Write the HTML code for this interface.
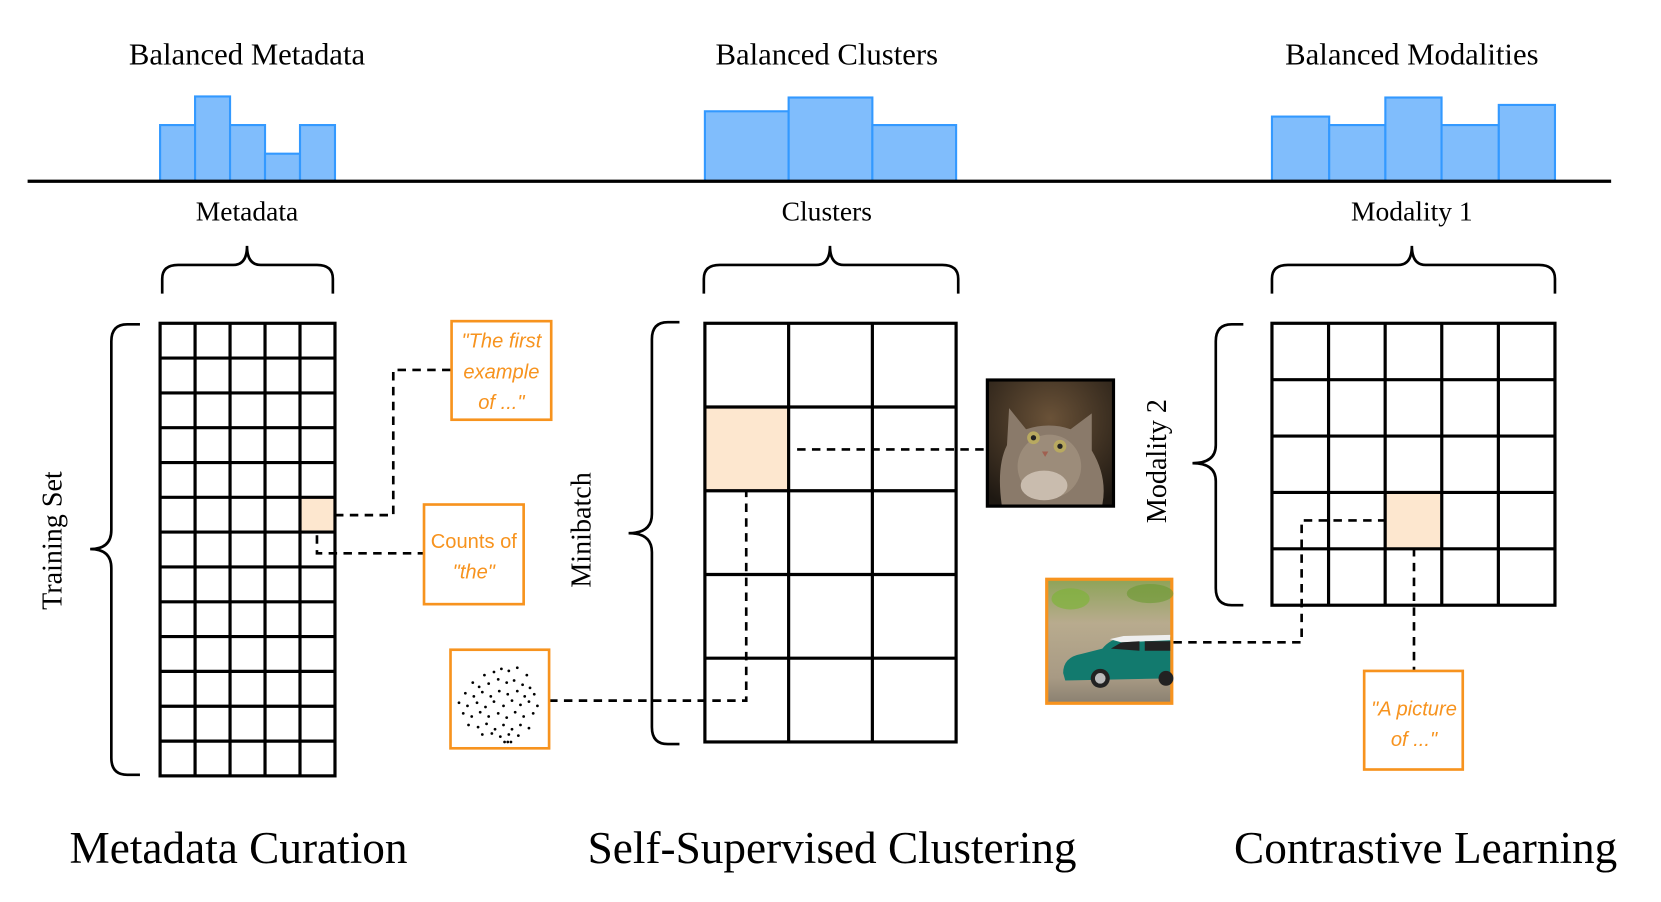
<!DOCTYPE html>
<html><head><meta charset="utf-8"><style>
html,body{margin:0;padding:0;background:#fff;}
svg{display:block;}
text{font-family:"Liberation Serif",serif;fill:#000;}
.o{font-family:"Liberation Sans",sans-serif;fill:#f7931e;font-size:19px;font-style:italic;}
</style></head><body>
<svg width="1661" height="902" viewBox="0 0 1567 851" xmlns="http://www.w3.org/2000/svg">
<defs>
<radialGradient id="catbg" cx="0.5" cy="0.3" r="0.8"><stop offset="0" stop-color="#6a5238"/><stop offset="1" stop-color="#1e1812"/></radialGradient>
<linearGradient id="carbg" x1="0" y1="0" x2="0" y2="1"><stop offset="0" stop-color="#8fa45a"/><stop offset="0.35" stop-color="#b8ab8e"/><stop offset="0.8" stop-color="#a89a84"/><stop offset="1" stop-color="#8c8272"/></linearGradient>
</defs>
<g font-size="29" text-anchor="middle">
<text x="233" y="61">Balanced Metadata</text>
<text x="780" y="61">Balanced Clusters</text>
<text x="1332" y="61">Balanced Modalities</text>
</g>
<g fill="#80bdfc" stroke="#3399ff" stroke-width="2">
<rect x="151" y="118" width="33" height="53"/><rect x="184" y="91" width="33" height="80"/><rect x="217" y="118" width="33" height="53"/><rect x="250" y="145" width="33" height="26"/><rect x="283" y="118" width="33" height="53"/>
<rect x="665" y="105" width="79" height="66"/><rect x="744" y="92" width="79" height="79"/><rect x="823" y="118" width="79" height="53"/>
<rect x="1200" y="110" width="54" height="61"/><rect x="1254" y="118" width="53" height="53"/><rect x="1307" y="92" width="53" height="79"/><rect x="1360" y="118" width="54" height="53"/><rect x="1414" y="99" width="53" height="72"/>
</g>
<line x1="26" y1="171" x2="1520" y2="171" stroke="#000" stroke-width="3"/>
<g font-size="26" text-anchor="middle">
<text x="233" y="208">Metadata</text>
<text x="780" y="208">Clusters</text>
<text x="1332" y="208">Modality 1</text>
</g>
<g fill="none" stroke="#000" stroke-width="2.5">
<path d="M153 277 V263 Q153 250 168 250 H220 Q233 250 233 232 Q233 250 246 250 H299 Q314 250 314 263 V277"/>
<path d="M664 277 V263 Q664 250 679 250 H770 Q783 250 783 232 Q783 250 796 250 H889 Q904 250 904 263 V277"/>
<path d="M1200 277 V263 Q1200 250 1215 250 H1319 Q1332 250 1332 232 Q1332 250 1345 250 H1452 Q1467 250 1467 263 V277"/>
<path d="M132 306 H120 Q105 306 105 322 V500 Q105 518 85 518 Q105 518 105 536 V715 Q105 731 120 731 H132"/>
<path d="M641 304 H630 Q615 304 615 320 V485 Q615 503 593 503 Q615 503 615 521 V686 Q615 702 630 702 H641"/>
<path d="M1173 306 H1162 Q1147 306 1147 322 V420 Q1147 437 1125 437 Q1147 437 1147 454 V555 Q1147 571 1162 571 H1173"/>
</g>
<g font-size="26.5" text-anchor="middle">
<text transform="translate(58,510) rotate(-90)">Training Set</text>
<text transform="translate(557,500) rotate(-90)">Minibatch</text>
<text transform="translate(1100,435) rotate(-90)">Modality 2</text>
</g>
<rect x="283" y="469" width="33" height="33" fill="#fde7cf"/>
<rect x="665" y="384" width="79" height="79" fill="#fde7cf"/>
<rect x="1307" y="465" width="53" height="52" fill="#fde7cf"/>
<g stroke="#000" stroke-width="3" fill="none">
<rect x="151" y="305" width="165" height="427"/>
<path d="M184 305V732M217 305V732M250 305V732M283 305V732"/>
<path d="M151 337.8H316M151 370.7H316M151 403.5H316M151 436.4H316M151 469.2H316M151 502H316M151 534.9H316M151 567.8H316M151 600.6H316M151 633.4H316M151 666.3H316M151 699.2H316"/>
<rect x="665" y="305" width="237" height="395"/>
<path d="M744 305V700M823 305V700M665 384H902M665 463H902M665 542H902M665 621H902"/>
<rect x="1200" y="305" width="267" height="266"/>
<path d="M1253.4 305V571M1306.8 305V571M1360.2 305V571M1413.6 305V571M1200 358.2H1467M1200 411.4H1467M1200 464.6H1467M1200 517.8H1467"/>
</g>
<g stroke="#000" stroke-width="2.5" fill="none" stroke-dasharray="8,6">
<path d="M316 486H371V349H426"/>
<path d="M299 505V522H400"/>
<path d="M518 661H704V464"/>
<path d="M752 424H930"/>
<path d="M1107 606H1228V491H1307"/>
<path d="M1334 517V633"/>
</g>
<g fill="#fff" stroke="#f7931e" stroke-width="2.5">
<rect x="426" y="303" width="94" height="93"/>
<rect x="400" y="476" width="94" height="94"/>
<rect x="425" y="613" width="93" height="93"/>
<rect x="1287" y="633" width="93" height="93"/>
</g>
<g text-anchor="middle">
<text class="o" x="473" y="328">"The first</text>
<text class="o" x="473" y="357">example</text>
<text class="o" x="473" y="386">of ..."</text>
<text class="o" x="447" y="517" style="font-style:normal">Counts of</text>
<text class="o" x="447" y="546">"the"</text>
<text class="o" x="1334" y="675">"A picture</text>
<text class="o" x="1334" y="704">of ..."</text>
</g>
<g fill="#000">
<circle cx="457" cy="637" r="1.3"/><circle cx="466" cy="634" r="1.3"/><circle cx="473" cy="631" r="1.3"/><circle cx="480" cy="633" r="1.3"/><circle cx="488" cy="630" r="1.3"/><circle cx="497" cy="637" r="1.3"/>
<circle cx="446" cy="644" r="1.3"/><circle cx="452" cy="648" r="1.3"/><circle cx="461" cy="645" r="1.3"/><circle cx="470" cy="641" r="1.3"/><circle cx="478" cy="644" r="1.3"/><circle cx="485" cy="642" r="1.3"/><circle cx="493" cy="646" r="1.3"/><circle cx="500" cy="649" r="1.3"/>
<circle cx="439" cy="654" r="1.3"/><circle cx="447" cy="657" r="1.3"/><circle cx="455" cy="653" r="1.3"/><circle cx="463" cy="657" r="1.3"/><circle cx="471" cy="652" r="1.3"/><circle cx="479" cy="655" r="1.3"/><circle cx="488" cy="652" r="1.3"/><circle cx="495" cy="657" r="1.3"/><circle cx="504" cy="655" r="1.3"/>
<circle cx="433" cy="663" r="1.3"/><circle cx="441" cy="666" r="1.3"/><circle cx="450" cy="663" r="1.3"/><circle cx="458" cy="667" r="1.3"/><circle cx="466" cy="662" r="1.3"/><circle cx="475" cy="666" r="1.3"/><circle cx="483" cy="661" r="1.3"/><circle cx="491" cy="665" r="1.3"/><circle cx="499" cy="662" r="1.3"/><circle cx="507" cy="666" r="1.3"/>
<circle cx="437" cy="673" r="1.3"/><circle cx="445" cy="676" r="1.3"/><circle cx="453" cy="672" r="1.3"/><circle cx="461" cy="676" r="1.3"/><circle cx="470" cy="673" r="1.3"/><circle cx="478" cy="677" r="1.3"/><circle cx="486" cy="672" r="1.3"/><circle cx="494" cy="676" r="1.3"/><circle cx="503" cy="673" r="1.3"/>
<circle cx="442" cy="684" r="1.3"/><circle cx="451" cy="686" r="1.3"/><circle cx="459" cy="683" r="1.3"/><circle cx="467" cy="688" r="1.3"/><circle cx="475" cy="684" r="1.3"/><circle cx="483" cy="688" r="1.3"/><circle cx="491" cy="684" r="1.3"/><circle cx="499" cy="687" r="1.3"/>
<circle cx="455" cy="693" r="1.3"/><circle cx="464" cy="692" r="1.3"/><circle cx="472" cy="695" r="1.3"/><circle cx="480" cy="693" r="1.3"/><circle cx="489" cy="694" r="1.3"/><circle cx="476" cy="700" r="1.3"/><circle cx="479" cy="700" r="1.3"/><circle cx="482" cy="700" r="1.3"/>
</g>
<rect x="930" y="357" width="122" height="122" fill="#000"/>
<rect x="933" y="360" width="116" height="116" fill="url(#catbg)"/>
<path d="M945 476 Q940 440 950 420 L952 385 L968 405 Q990 398 1010 405 L1030 390 L1030 425 Q1045 450 1040 476 Z" fill="#8a7a6a"/>
<ellipse cx="990" cy="440" rx="30" ry="30" fill="#9c8c7a"/>
<ellipse cx="975" cy="413" rx="6" ry="6" fill="#b8a960"/><ellipse cx="1000" cy="421" rx="6" ry="6" fill="#b8a960"/>
<circle cx="975" cy="413" r="2.5" fill="#222"/><circle cx="1000" cy="421" r="2.5" fill="#222"/>
<path d="M983 426 l6 0 l-3 5z" fill="#a06050"/>
<ellipse cx="985" cy="458" rx="22" ry="14" fill="#c9bcae"/>
<rect x="986" y="545" width="121" height="120" fill="#f7931e"/>
<rect x="989" y="548" width="115" height="114" fill="url(#carbg)"/>
<ellipse cx="1010" cy="565" rx="18" ry="10" fill="#7fb33a" opacity="0.7"/>
<ellipse cx="1085" cy="560" rx="22" ry="9" fill="#6a9a30" opacity="0.6"/>
<path d="M1003 635 Q1003 620 1020 617 L1040 612 Q1047 603 1060 601 L1104 601 L1104 640 L1005 642 Z" fill="#127a6e"/>
<path d="M1047 603 L1060 600 L1104 599 L1104 604 L1058 606 Z" fill="#eee"/>
<path d="M1048 612 L1058 606 L1075 605 L1075 614 Z" fill="#222"/>
<path d="M1080 605 L1104 605 L1104 614 L1080 614 Z" fill="#222"/>
<circle cx="1038" cy="640" r="9" fill="#222"/><circle cx="1038" cy="640" r="5" fill="#bbb"/>
<circle cx="1100" cy="640" r="7" fill="#222"/>
<g font-size="42.7" text-anchor="middle">
<text x="225" y="814">Metadata Curation</text>
<text x="785" y="814">Self-Supervised Clustering</text>
<text x="1345" y="814">Contrastive Learning</text>
</g>
</svg>
</body></html>
